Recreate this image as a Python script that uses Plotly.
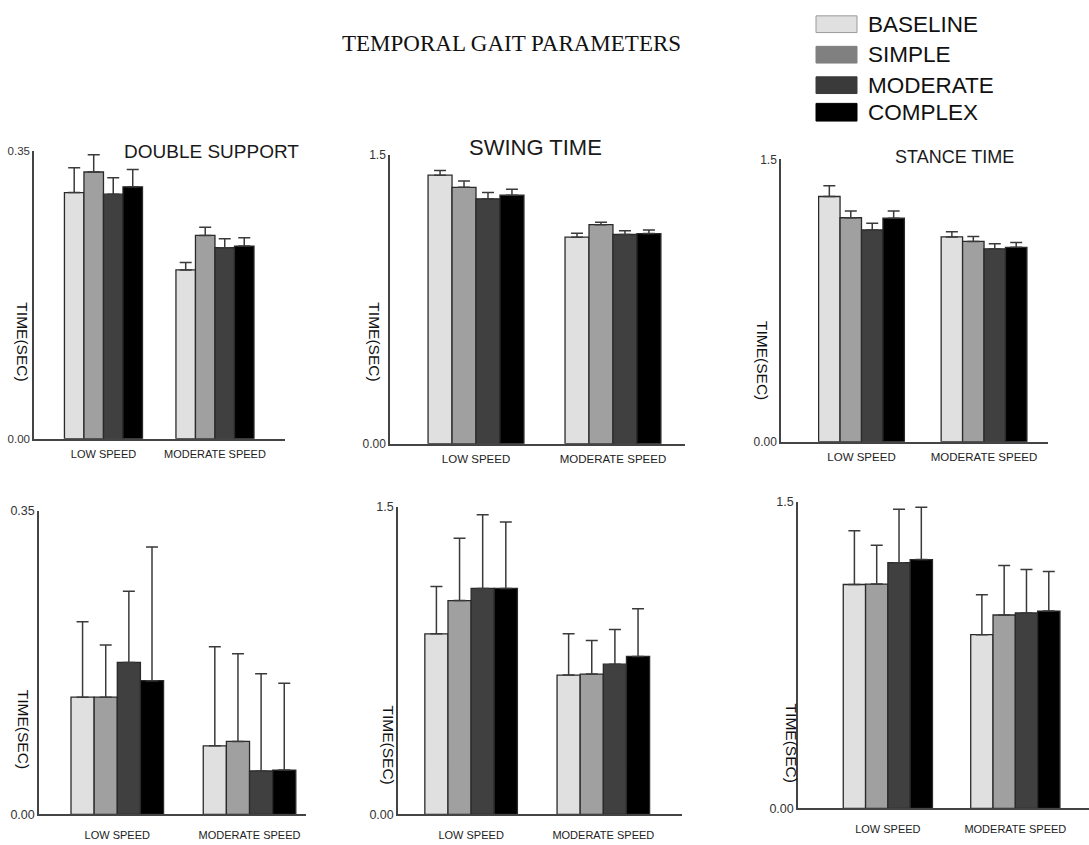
import plotly.graph_objects as go

W, H = 1089, 845

CONDITIONS = ["BASELINE", "SIMPLE", "MODERATE", "COMPLEX"]
SPEEDS = ["LOW SPEED", "MODERATE SPEED"]
BAR_COLORS = ["#e0e0e0", "#a0a0a0", "#404040", "#000000"]
SWATCH_COLORS = ["#e0e0e0", "#808080", "#3a3a3a", "#000000"]

# Means and SE per condition, as [low speed, moderate speed]
ds_a_mean = [[0.299, 0.205], [0.324, 0.247], [0.297, 0.232], [0.306, 0.234]]
ds_a_err = [[0.030, 0.009], [0.021, 0.010], [0.020, 0.011], [0.021, 0.010]]

swing_a_mean = [[1.393, 1.071], [1.330, 1.136], [1.270, 1.085], [1.289, 1.090]]
swing_a_err = [[0.024, 0.020], [0.032, 0.013], [0.033, 0.019], [0.031, 0.019]]

stance_a_mean = [[1.303, 1.088], [1.190, 1.064], [1.125, 1.025], [1.188, 1.033]]
stance_a_err = [[0.057, 0.028], [0.036, 0.026], [0.036, 0.027], [0.038, 0.026]]

ds_b_mean = [[0.135, 0.079], [0.135, 0.084], [0.175, 0.050], [0.154, 0.051]]
ds_b_err = [[0.087, 0.114], [0.060, 0.101], [0.082, 0.112], [0.154, 0.100]]

swing_b_mean = [[0.880, 0.679], [1.042, 0.684], [1.101, 0.732], [1.101, 0.770]]
swing_b_err = [[0.231, 0.201], [0.304, 0.163], [0.359, 0.169], [0.324, 0.232]]

stance_b_mean = [[1.095, 0.850], [1.097, 0.946], [1.202, 0.956], [1.217, 0.965]]
stance_b_err = [[0.263, 0.195], [0.190, 0.242], [0.261, 0.213], [0.256, 0.194]]

Y_TICKS_DS = ["0.00", "0.35"]
Y_TICKS_TIME = ["0.00", "1.5"]
Y_TITLE = "TIME(SEC)"
MAIN_TITLE = "TEMPORAL GAIT PARAMETERS"


def px_x(v):
    return v / W


def px_y(v):
    return 1 - v / H


SANS = "Liberation Sans, Arial, sans-serif"

# panel layout: plot box in pixels, x range, fonts and headings
panels = [
    dict(mean=ds_a_mean, err=ds_a_err, ymax=0.35, yt=Y_TICKS_DS,
         box=(34, 146, 285, 439), xr=(-0.623, 1.628), tf=11, tl=4,
         yf=11.5, head="DOUBLE SUPPORT", head_pos=(211, 147), head_size=19,
         ytitle_pos=(23, 340)),
    dict(mean=swing_a_mean, err=swing_a_err, ymax=1.5, yt=Y_TICKS_TIME,
         box=(390, 150, 685, 444), xr=(-0.628, 1.526), tf=11.5, tl=4,
         yf=12, head="SWING TIME", head_pos=(535, 143), head_size=22,
         ytitle_pos=(375, 340)),
    dict(mean=stance_a_mean, err=stance_a_err, ymax=1.5, yt=Y_TICKS_TIME,
         box=(781, 155, 1048, 442), xr=(-0.657, 1.522), tf=11.5, tl=4,
         yf=12, head="STANCE TIME", head_pos=(954, 153), head_size=18,
         ytitle_pos=(763, 359)),
    dict(mean=ds_b_mean, err=ds_b_err, ymax=0.35, yt=Y_TICKS_DS,
         box=(39, 512, 306, 821), xr=(-0.592, 1.427), tf=11, tl=10,
         yf=12.5, head=None, ytitle_pos=(23, 734)),
    dict(mean=swing_b_mean, err=swing_b_err, ymax=1.5, yt=Y_TICKS_TIME,
         box=(398, 508, 682, 821), xr=(-0.553, 1.595), tf=11, tl=10,
         yf=12.5, head=None, ytitle_pos=(388, 751)),
    dict(mean=stance_b_mean, err=stance_b_err, ymax=1.5, yt=Y_TICKS_TIME,
         box=(798, 503, 1089, 815), xr=(-0.705, 1.578), tf=11, tl=10,
         yf=12.5, head=None, ytitle_pos=(791, 748)),
]

GROUP_W = 0.70
BAR_W = GROUP_W / len(CONDITIONS)

fig = go.Figure()
layout_axes = {}
annotations = []

for p_i, pnl in enumerate(panels, start=1):
    xa = "x" if p_i == 1 else f"x{p_i}"
    ya = "y" if p_i == 1 else f"y{p_i}"
    for c_i, cond in enumerate(CONDITIONS):
        fig.add_trace(go.Bar(
            x=[0, 1], y=pnl["mean"][c_i],
            width=BAR_W, offset=-GROUP_W / 2 + c_i * BAR_W,
            marker=dict(color=BAR_COLORS[c_i], line=dict(color="#2a2a2a", width=1.3)),
            error_y=dict(type="data", symmetric=False, array=pnl["err"][c_i],
                         arrayminus=[0, 0], color="#3a3a3a", thickness=1.5, width=6),
            name=cond, showlegend=False, xaxis=xa, yaxis=ya,
        ))
    x0, y0, x1, y1 = pnl["box"]
    xkey = "xaxis" if p_i == 1 else f"xaxis{p_i}"
    ykey = "yaxis" if p_i == 1 else f"yaxis{p_i}"
    layout_axes[xkey] = dict(
        domain=[px_x(x0), min(px_x(x1), 1)], range=list(pnl["xr"]),
        anchor=ya, tickmode="array", tickvals=[0, 1], ticktext=SPEEDS,
        showgrid=False, zeroline=False, showline=True, linecolor="#444", linewidth=1.5,
        ticks="outside", ticklen=pnl["tl"], tickcolor="rgba(0,0,0,0)",
        tickfont=dict(family=SANS, size=pnl["tf"], color="#222"), fixedrange=True,
    )
    layout_axes[ykey] = dict(
        domain=[px_y(y1), px_y(y0)], range=[0, pnl["ymax"]], anchor=xa,
        tickmode="array", tickvals=[0, pnl["ymax"]], ticktext=pnl["yt"],
        showgrid=False, zeroline=False, showline=True, linecolor="#444", linewidth=1.5,
        ticks="", tickfont=dict(family=SANS, size=pnl["yf"], color="#333"),
        fixedrange=True,
    )
    if pnl["head"]:
        hx, hy = pnl["head_pos"]
        annotations.append(dict(
            text=pnl["head"], x=px_x(hx), y=px_y(hy), xref="paper", yref="paper",
            showarrow=False, xanchor="center", yanchor="middle",
            font=dict(family=SANS, size=pnl["head_size"], color="#1a1a1a"),
        ))
    tx, ty = pnl["ytitle_pos"]
    annotations.append(dict(
        text=Y_TITLE, x=px_x(tx), y=px_y(ty), xref="paper", yref="paper",
        showarrow=False, textangle=90, xanchor="center", yanchor="middle",
        font=dict(family=SANS, size=15.5, color="#111"),
    ))

annotations.append(dict(
    text=MAIN_TITLE, x=px_x(511), y=px_y(37), xref="paper", yref="paper",
    showarrow=False, xanchor="center", yanchor="middle",
    font=dict(family="Liberation Serif, Times New Roman, serif", size=23, color="#111"),
))

# legend drawn as swatches with labels
shapes = []
legend_rows = [(9, 26), (40, 57), (71, 88), (98, 116)]
for (top, bot), cond, col in zip(legend_rows, CONDITIONS, SWATCH_COLORS):
    shapes.append(dict(
        type="rect", xref="paper", yref="paper",
        x0=px_x(816), x1=px_x(857), y0=px_y(bot), y1=px_y(top),
        fillcolor=col, line=dict(color="#9a9a9a" if col == "#e0e0e0" else col, width=1),
    ))
    annotations.append(dict(
        text=cond, x=px_x(866), y=px_y((top + bot) / 2), xref="paper", yref="paper",
        showarrow=False, xanchor="left", yanchor="middle",
        font=dict(family=SANS, size=22.5, color="#111"),
    ))

fig.update_layout(
    width=W, height=H, margin=dict(l=0, r=0, t=0, b=0),
    paper_bgcolor="white", plot_bgcolor="white",
    barmode="overlay", showlegend=False,
    annotations=annotations, shapes=shapes,
    **layout_axes,
)

fig.write_html("out.html", config={"displayModeBar": False})
